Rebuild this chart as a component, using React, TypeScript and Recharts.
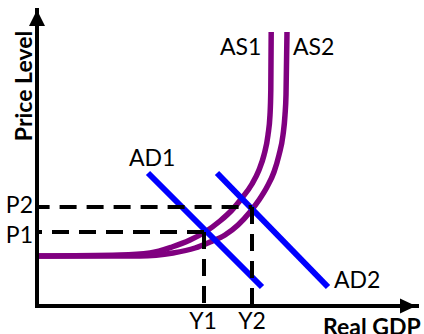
import { LineChart, Line, XAxis, YAxis, ReferenceDot } from 'recharts'

// price levels on the vertical axis, output levels on the horizontal axis
const priceTicks = [74, 99]
const priceLabels = ['P1', 'P2']
const gdpTicks = [167, 215]
const gdpLabels = ['Y1', 'Y2']

// aggregate supply curves
const as1 = [
  { x: 0, y: 50 }, { x: 83, y: 51 }, { x: 113, y: 53 }, { x: 135, y: 59 },
  { x: 153, y: 66 }, { x: 168, y: 74 }, { x: 183, y: 85 }, { x: 195, y: 96 },
  { x: 205, y: 108 }, { x: 215, y: 122 }, { x: 222, y: 136 }, { x: 227, y: 151 },
  { x: 231, y: 171 }, { x: 233, y: 191 }, { x: 233.8, y: 216 }, { x: 234.2, y: 274 },
]
const as2 = [
  { x: 0, y: 50 }, { x: 103, y: 50 }, { x: 136, y: 53 }, { x: 158, y: 58 },
  { x: 173, y: 64 }, { x: 188, y: 71 }, { x: 201, y: 81 }, { x: 213, y: 94 },
  { x: 222, y: 106 }, { x: 230, y: 119 }, { x: 237, y: 134 }, { x: 242, y: 151 },
  { x: 246, y: 171 }, { x: 248, y: 191 }, { x: 249, y: 211 }, { x: 250, y: 274 },
]

// aggregate demand lines
const ad1 = [{ x: 111, y: 133 }, { x: 225, y: 19 }]
const ad2 = [{ x: 180, y: 133 }, { x: 291, y: 19 }]

const [P1, P2] = priceTicks
const [Y1, Y2] = gdpTicks
const p1Guide = [{ x: Y1, y: P1 }, { x: 0, y: P1 }]
const y1Guide = [{ x: Y1, y: P1 }, { x: Y1, y: 0 }]
const p2Guide = [{ x: 0, y: P2 }, { x: Y2, y: P2 }]
const y2Guide = [{ x: Y2, y: P2 }, { x: Y2, y: 0 }]

const FONT = 'Lato, "Noto Sans", sans-serif'
const PURPLE = '#800080'
const BLUE = '#0000ff'

const PriceTick = ({ x, y, payload }: any) => {
  const i = priceTicks.indexOf(payload.value)
  return (
    <text x={x - 4} y={y + (i === 0 ? 11 : 6)} textAnchor="end" fontSize={23} fontFamily={FONT} fill="#000">
      {priceLabels[i]}
    </text>
  )
}

const GdpTick = ({ x, y, payload }: any) => {
  const i = gdpTicks.indexOf(payload.value)
  return (
    <text x={i === 0 ? x - 1 : x} y={y + 23} textAnchor="middle" fontSize={23} fontFamily={FONT} fill="#000">
      {gdpLabels[i]}
    </text>
  )
}

const word = (text: string, bold = false, rotate = false) => (p: any) => (
  <text
    x={p.cx}
    y={p.cy}
    fontSize={23}
    fontWeight={bold ? 700 : 400}
    fontFamily={FONT}
    fill="#000"
    textAnchor={rotate ? 'middle' : 'start'}
    transform={rotate ? `rotate(-90 ${p.cx} ${p.cy})` : undefined}
  >
    {text}
  </text>
)

const upArrow = (p: any) => <polygon points={`${p.cx},${p.cy} ${p.cx - 8},${p.cy + 16} ${p.cx + 8},${p.cy + 16}`} fill="#000" />
const rightArrow = (p: any) => <polygon points={`${p.cx},${p.cy} ${p.cx - 16},${p.cy - 7.5} ${p.cx - 16},${p.cy + 7.5}`} fill="#000" />

const guide = { stroke: '#000', strokeWidth: 4, dot: false, isAnimationActive: false, strokeDasharray: '17 10' }

export default function App() {
  return (
    <>
      <style>{'body{margin:0}'}</style>
      <LineChart width={424} height={334} margin={{ top: 10, right: 7, bottom: 0, left: 0 }}>
        <XAxis
          type="number"
          dataKey="x"
          domain={[0, 380]}
          allowDataOverflow
          ticks={gdpTicks}
          interval={0}
          tick={<GdpTick />}
          tickLine={false}
          tickSize={0}
          tickMargin={0}
          height={28}
          axisLine={{ stroke: '#000', strokeWidth: 4, strokeLinecap: 'square' }}
        />
        <YAxis
          type="number"
          domain={[0, 296]}
          allowDataOverflow
          ticks={priceTicks}
          interval={0}
          tick={<PriceTick />}
          tickLine={false}
          tickSize={0}
          tickMargin={0}
          width={37}
          axisLine={{ stroke: '#000', strokeWidth: 4, strokeLinecap: 'square' }}
        />
        <Line data={as1} dataKey="y" type="monotone" stroke={PURPLE} strokeWidth={5.5} dot={false} isAnimationActive={false} />
        <Line data={as2} dataKey="y" type="monotone" stroke={PURPLE} strokeWidth={5.5} dot={false} isAnimationActive={false} />
        <Line data={ad1} dataKey="y" stroke={BLUE} strokeWidth={6} dot={false} isAnimationActive={false} />
        <Line data={ad2} dataKey="y" stroke={BLUE} strokeWidth={6} dot={false} isAnimationActive={false} />
        <Line data={p1Guide} dataKey="y" {...guide} />
        <Line data={y1Guide} dataKey="y" {...guide} />
        <Line data={p2Guide} dataKey="y" {...guide} strokeDashoffset={4.4} />
        <Line data={y2Guide} dataKey="y" {...guide} />
        <ReferenceDot x={0} y={296} r={0} ifOverflow="visible" shape={upArrow} />
        <ReferenceDot x={379} y={0} r={0} ifOverflow="visible" shape={rightArrow} />
        <ReferenceDot x={183} y={251} r={0} ifOverflow="visible" shape={word('AS1')} />
        <ReferenceDot x={256} y={251} r={0} ifOverflow="visible" shape={word('AS2')} />
        <ReferenceDot x={92} y={140} r={0} ifOverflow="visible" shape={word('AD1')} />
        <ReferenceDot x={297} y={18} r={0} ifOverflow="visible" shape={word('AD2')} />
        <ReferenceDot x={286} y={-29} r={0} ifOverflow="visible" shape={word('Real GDP', true)} />
        <ReferenceDot x={-5} y={220} r={0} ifOverflow="visible" shape={word('Price Level', true, true)} />
      </LineChart>
    </>
  )
}
